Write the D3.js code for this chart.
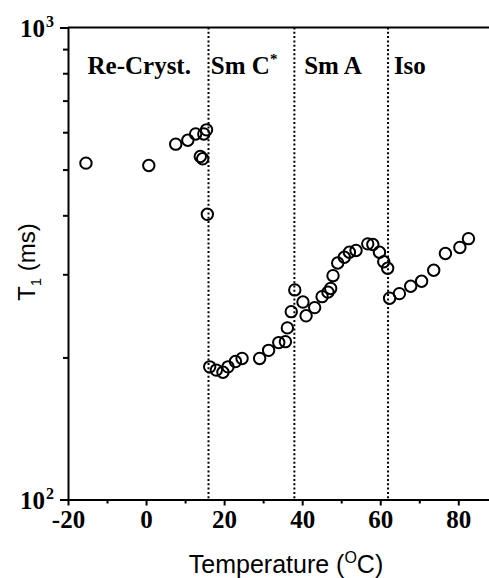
<!DOCTYPE html>
<html>
<head>
<meta charset="utf-8">
<script src="https://cdn.jsdelivr.net/npm/d3@7"></script>
<style>
  body { margin: 0; background: #fff; }
  .tick text { font-family: "Liberation Serif", "Times New Roman", serif; font-weight: bold; }
</style>
</head>
<body>
<svg id="chart" width="489" height="578"></svg>
<script>
var tempC = [-15.4, 0.7, 7.6, 10.7, 12.7, 14.8, 15.5, 13.9, 14.5, 15.7,
             16.3, 18.0, 19.7, 21.0, 22.9, 24.6, 29.1, 31.4, 34.0, 35.7, 36.2, 37.2, 38.1,
             40.2, 41.0, 43.2, 45.1, 46.6, 47.3, 47.9, 49.1, 50.8, 52.1, 53.8, 56.8, 58.1, 59.8, 60.9, 61.9,
             62.4, 64.9, 67.8, 70.6, 73.7, 76.7, 80.4, 82.6];
var t1ms = [516, 510, 566, 577, 595, 595, 607, 533, 527, 402,
            191, 188, 186, 191, 196, 199, 199, 207, 215, 216, 231, 250, 278,
            262, 245, 255, 269, 275, 280, 298, 317, 326, 334, 337, 348, 347, 334, 319, 309,
            267, 273, 283, 290, 306, 332, 342, 357];

var phaseBounds = [16, 38, 62];        // dotted lines
var phaseNames = ['Re-Cryst.', 'Sm C', 'Sm A', 'Iso'];
var phaseLabelX = [-15, 16.6, 40.5, 63.5];

var xTicks = [-20, 0, 20, 40, 60, 80];
var xMinorTicks = [-10, 10, 30, 50, 70, 90];
var yTicks = [100, 200, 300, 400, 500, 600, 700, 800, 900, 1000];

//--------------------------------------
var svg = d3.select('#chart');
var x = d3.scaleLinear().domain([-20, 90]).range([68, 68 + 110 * 3.903]);
var y = d3.scaleLog().domain([100, 1000]).range([499.5, 27.5]);

// minor x ticks
svg.append('g').attr('transform', 'translate(0,' + y(100) + ')')
  .call(d3.axisBottom(x).tickValues(xMinorTicks).tickSize(4).tickFormat('').tickSizeOuter(0))
  .call(function(g){ g.select('.domain').remove(); })
  .selectAll('line').attr('stroke-width', 2);

// main x axis
var xAxis = svg.append('g').attr('transform', 'translate(0,' + y(100) + ')')
  .call(d3.axisBottom(x).tickValues(xTicks).tickSize(6).tickPadding(5).tickSizeOuter(0).tickFormat(d3.format('d')));
xAxis.select('.domain').attr('stroke-width', 2);
xAxis.selectAll('line').attr('stroke-width', 2);
xAxis.selectAll('text').attr('font-size', 25).attr('fill', '#000');
xAxis.selectAll('text').text(function(d){ return d < 0 ? '-' + Math.abs(d) : d; });

// left axis, ticks only
var yAxis = svg.append('g').attr('transform', 'translate(' + x(-20) + ',0)')
  .call(d3.axisLeft(y).tickValues(yTicks).tickSize(5).tickFormat('').tickSizeOuter(0));
yAxis.select('.domain').attr('stroke-width', 2);
yAxis.selectAll('line').attr('stroke-width', 2)
  .attr('x2', function(d){ return (d === 100 || d === 1000) ? -8 : -5; });

// top line
svg.append('line')
  .attr('x1', x(-20)).attr('x2', 489)
  .attr('y1', y(1000)).attr('y2', y(1000))
  .attr('stroke', '#000').attr('stroke-width', 2);

// decade labels
[[100, '2'], [1000, '3']].forEach(function(d){
  var t = svg.append('text')
    .attr('x', 45).attr('y', y(d[0]) + 9)
    .attr('text-anchor', 'end')
    .attr('font-family', '"Liberation Serif", "Times New Roman", serif')
    .attr('font-weight', 'bold').attr('font-size', 25);
  t.text('10');
  svg.append('text')
    .attr('x', 46).attr('y', y(d[0]) - 1)
    .attr('font-family', '"Liberation Serif", "Times New Roman", serif')
    .attr('font-weight', 'bold').attr('font-size', 16)
    .text(d[1]);
});

// phase boundaries
svg.selectAll('.phase-line').data(phaseBounds).enter().append('line')
  .attr('class', 'phase-line')
  .attr('x1', function(d){ return x(d); }).attr('x2', function(d){ return x(d); })
  .attr('y1', y(1000)).attr('y2', y(100))
  .attr('stroke', '#000').attr('stroke-width', 2)
  .attr('stroke-dasharray', '2,2.3');

// phase names
var labels = svg.selectAll('.phase-name').data(phaseNames).enter().append('text')
  .attr('class', 'phase-name')
  .attr('x', function(d, i){ return x(phaseLabelX[i]); })
  .attr('y', 74)
  .attr('font-family', '"Liberation Serif", "Times New Roman", serif')
  .attr('font-weight', 'bold').attr('font-size', 25)
  .text(function(d){ return d; });
labels.filter(function(d){ return d === 'Sm C'; })
  .append('tspan').attr('dy', -10).attr('font-size', 15).text('*');

// points
svg.selectAll('.pt').data(tempC).enter().append('circle')
  .attr('class', 'pt')
  .attr('cx', function(d){ return x(d); })
  .attr('cy', function(d, i){ return y(t1ms[i]); })
  .attr('r', 5.7)
  .attr('fill', 'none').attr('stroke', '#000').attr('stroke-width', 2);

// axis titles
var xt = svg.append('text')
  .attr('x', 286).attr('y', 573)
  .attr('text-anchor', 'middle')
  .attr('font-family', '"Liberation Sans", Arial, sans-serif').attr('font-size', 25);
xt.append('tspan').text('Temperature (');
xt.append('tspan').attr('dy', -10).attr('font-size', 16).text('O');
xt.append('tspan').attr('dy', 10).text('C)');

var yt = svg.append('text')
  .attr('transform', 'translate(35,262) rotate(-90)')
  .attr('text-anchor', 'middle')
  .attr('font-family', '"Liberation Sans", Arial, sans-serif').attr('font-size', 24);
yt.append('tspan').text('T');
yt.append('tspan').attr('dy', 6).attr('font-size', 15).text('1');
yt.append('tspan').attr('dy', -6).text(' (ms)');
</script>
</body>
</html>
